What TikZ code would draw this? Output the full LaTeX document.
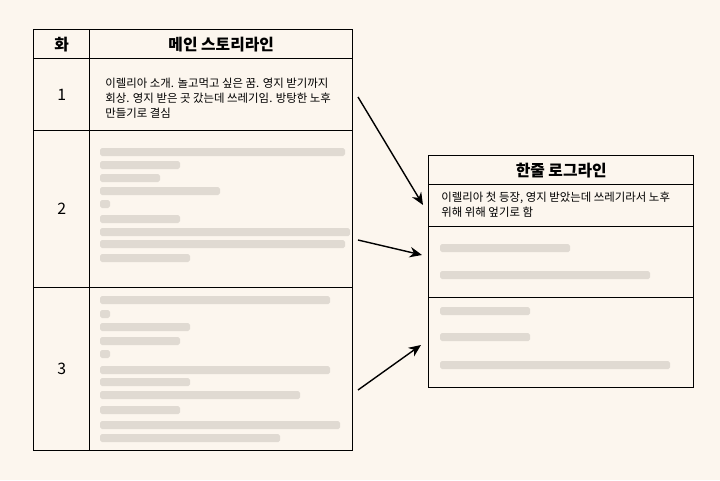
\documentclass[tikz,border=0pt]{standalone}
\usepackage{fontspec}
\setmainfont{Noto Sans CJK KR}
\usetikzlibrary{positioning,arrows.meta}
\definecolor{paper}{HTML}{FCF6EE}
\definecolor{blur}{HTML}{C9C3BC}
\tikzstyle{cell}=[rectangle, draw=black, thick, anchor=north west, inner sep=0pt]
\tikzstyle{head}=[font=\bfseries\fontsize{9}{11}\selectfont]
\tikzstyle{body}=[font=\fontsize{6.5}{8.6}\selectfont, align=left, anchor=west, inner sep=0pt]
\tikzstyle{smudge}=[fill=blur, opacity=0.55, rounded corners=1pt]
\tikzstyle{link}=[-{Stealth[length=7pt,width=6pt]}, thick]
\begin{document}
\begin{tikzpicture}[x=0.02cm,y=-0.02cm]
\fill[paper] (0,0) rectangle (720,480);
\useasboundingbox (0,0) rectangle (720,480);
% left table
\node[cell, minimum width=56*0.02cm, minimum height=29*0.02cm] (h1) at (33,29) {};
\node[cell, minimum width=263*0.02cm, minimum height=29*0.02cm] (h2) at (89,29) {};
\node[head] at (h1) {화};
\node[head] at (h2) {메인 스토리라인};
\node[cell, minimum width=56*0.02cm, minimum height=72*0.02cm] (n1) at (33,58) {};
\node[cell, minimum width=263*0.02cm, minimum height=72*0.02cm] (s1) at (89,58) {};
\node[cell, minimum width=56*0.02cm, minimum height=157*0.02cm] (n2) at (33,130) {};
\node[cell, minimum width=263*0.02cm, minimum height=157*0.02cm] (s2) at (89,130) {};
\node[cell, minimum width=56*0.02cm, minimum height=163*0.02cm] (n3) at (33,287) {};
\node[cell, minimum width=263*0.02cm, minimum height=163*0.02cm] (s3) at (89,287) {};
\node[font=\fontsize{9}{11}\selectfont] at (n1) {1};
\node[font=\fontsize{9}{11}\selectfont] at (n2) {2};
\node[font=\fontsize{9}{11}\selectfont] at (n3) {3};
\node[body] (t1) at (105,98) {이렐리아 소개. 놀고먹고 싶은 꿈. 영지 받기까지\\회상. 영지 받은 곳 갔는데 쓰레기임. 방탕한 노후\\만들기로 결심};
% blurred lines, row 2
\foreach \y/\w in {152/245,165/80,178/60,191/120,204/10,219/80,232/250,244/245,258/90}
  \fill[smudge] (100,\y-4) rectangle (100+\w,\y+4);
% blurred lines, row 3
\foreach \y/\w in {300/230,314/10,327/90,341/80,354/10,370/230,382/90,395/200,410/80,425/240,438/180}
  \fill[smudge] (100,\y-4) rectangle (100+\w,\y+4);
% right table
\node[cell, minimum width=265*0.02cm, minimum height=29*0.02cm] (r0) at (428,155) {};
\node[head] at (r0) {한줄 로그라인};
\node[cell, minimum width=265*0.02cm, minimum height=42*0.02cm] (r1) at (428,184) {};
\node[cell, minimum width=265*0.02cm, minimum height=71*0.02cm] (r2) at (428,226) {};
\node[cell, minimum width=265*0.02cm, minimum height=90*0.02cm] (r3) at (428,297) {};
\node[body] (t2) at (441,205) {이렐리아 첫 등장, 영지 받았는데 쓰레기라서 노후\\위해 위해 엎기로 함};
\foreach \y/\w in {248/130,275/210,311/90,337/90,365/230}
  \fill[smudge] (440,\y-4) rectangle (440+\w,\y+4);
% arrows
\coordinate (a1) at (358,97);  \coordinate (b1) at (423,205);
\coordinate (a2) at (358,240); \coordinate (b2) at (422,255);
\coordinate (a3) at (358,390); \coordinate (b3) at (421,345);
\draw[link] (a1) -- (b1);
\draw[link] (a2) -- (b2);
\draw[link] (a3) -- (b3);
\end{tikzpicture}
\end{document}
